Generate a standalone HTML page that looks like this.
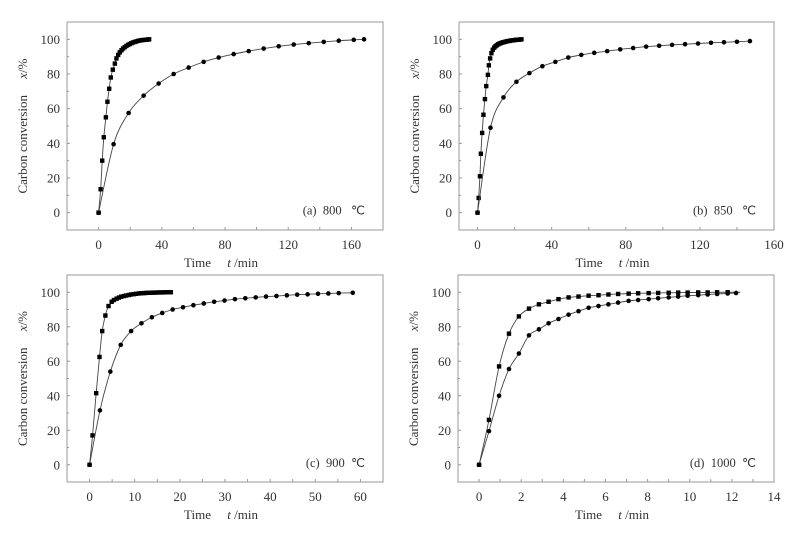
<!DOCTYPE html>
<html><head><meta charset="utf-8"><style>
body{margin:0;background:#fff;width:805px;height:531px;overflow:hidden}
svg text{font-family:"Liberation Serif",serif;fill:#333}
</style></head><body>
<svg id="chart" width="805" height="531" xmlns="http://www.w3.org/2000/svg"></svg>
<script>
// Panel (a) 800 C
const aFastT=[0,1.3,2.3,3.3,4.6,5.6,6.7,7.7,9,10.3,11.3,12.4,13.4,14.5,15.5,16.6,17.6,18.7,19.7,20.8,21.8,22.9,23.9,25,26,27.1,28.1,29.2,30.2,31.3,32];
const aFastX=[0,13.5,30,43.5,55,64,71.5,78,82.5,86,89,91,92.5,93.7,94.7,95.5,96.2,96.8,97.3,97.8,98.2,98.5,98.8,99.1,99.3,99.5,99.6,99.7,99.8,99.9,100];
const aSlowT=[0,9.5,19,28.5,38,47.5,57,66.5,76,85.5,95,104.5,114,123.5,133,142.5,152,161.5,168];
const aSlowX=[0,39.5,57.5,67.5,74.5,80,83.7,87,89.5,91.5,93.2,94.7,96,97,97.8,98.5,99.2,99.7,100];
// Panel (b) 850 C
const bFastT=[0,0.6,1.3,1.8,2.5,3.2,4,4.7,5.6,6.1,6.8,7.5,8.2,9,9.7,10.4,11.1,11.8,12.5,13.2,13.9,14.6,15.3,16,16.7,17.4,18.1,18.8,19.5,20.2,20.9,21.6,22.3,23,23.7];
const bFastX=[0,8.5,21,34,46,56.5,65.5,73,79.5,85,89,92,94,95.2,96,96.6,97.1,97.5,97.8,98.1,98.3,98.5,98.7,98.9,99,99.2,99.3,99.4,99.5,99.6,99.7,99.8,99.8,99.9,100];
const bSlowT=[0,7,14,21,28,35,42,49,56,63,70,77,84,91,98,105,112,119,126,133,140,147];
const bSlowX=[0,49,66.5,75.5,80.5,84.5,87,89.5,91,92.2,93.2,94.2,95,95.8,96.3,96.8,97.2,97.6,98,98.3,98.6,99];
// Panel (c) 900 C
const cFastT=[0,0.66,1.46,2.2,2.8,3.5,4.2,4.9,5.4,6,6.5,7,7.6,8.1,8.7,9.2,9.8,10.3,10.9,11.4,12,12.5,13,13.6,14.1,14.7,15.2,15.8,16.3,16.9,17.4,18];
const cFastX=[0,17,41.5,62.5,77.5,86.5,92,94.5,95.5,96.3,96.9,97.4,97.8,98.1,98.4,98.7,98.9,99.1,99.3,99.4,99.5,99.6,99.7,99.7,99.8,99.8,99.9,99.9,99.9,100,100,100];
const cSlowT=[0,2.3,4.6,6.9,9.2,11.5,13.8,16.1,18.4,20.7,23,25.3,27.6,29.9,32.2,34.5,36.8,39.1,41.4,43.7,46,48.3,50.6,52.9,55.2,58.3];
const cSlowX=[0,31.5,54,69.5,77.5,82,85.5,88,90,91.3,92.5,93.5,94.5,95.2,96,96.5,97,97.5,97.8,98.2,98.6,98.8,99.1,99.3,99.5,99.7];
// Panel (d) 1000 C
const dFastT=[0,0.47,0.95,1.42,1.89,2.37,2.84,3.3,3.77,4.25,4.72,5.2,5.67,6.14,6.6,7.1,7.55,8.05,8.5,9,9.45,9.9,10.4,10.85,11.3,11.8];
const dFastX=[0,26,57,76,86,90.5,93,94.5,96,97,97.5,98,98.3,98.7,99,99.2,99.4,99.5,99.6,99.7,99.8,99.8,99.9,99.9,100,100];
const dSlowT=[0,0.47,0.95,1.42,1.89,2.37,2.84,3.3,3.77,4.25,4.72,5.2,5.67,6.14,6.6,7.1,7.55,8.05,8.5,9,9.45,9.9,10.4,10.85,11.3,11.8,12.2];
const dSlowX=[0,19.5,40,55.5,64.5,75,78.5,82,84.5,87,89,91,92,93,94,95,95.5,96,96.5,97,97.5,98,98.3,98.7,99,99.3,99.6];
const yTicks=[0,20,40,60,80,100];
const aTicks=[0,40,80,120,160], bTicks=[0,40,80,120,160], cTicks=[0,10,20,30,40,50,60], dTicks=[0,2,4,6,8,10,12,14];

const NS="http://www.w3.org/2000/svg";
const svg=document.getElementById('chart');
function mk(tag,attrs,parent){const e=document.createElementNS(NS,tag);for(const k in attrs)e.setAttribute(k,attrs[k]);(parent||svg).appendChild(e);return e;}
function smooth(pts){let d=`M${pts[0][0]},${pts[0][1]}`;for(let i=0;i<pts.length-1;i++){const p0=pts[Math.max(0,i-1)],p1=pts[i],p2=pts[i+1],p3=pts[Math.min(pts.length-1,i+2)];
const c1=[p1[0]+(p2[0]-p0[0])/6,p1[1]+(p2[1]-p0[1])/6],c2=[p2[0]-(p3[0]-p1[0])/6,p2[1]-(p3[1]-p1[1])/6];d+=`C${c1[0]},${c1[1]} ${c2[0]},${c2[1]} ${p2[0]},${p2[1]}`;}return d;}

function panel(id,box,xmin,xmax,xticks,minorStep,label,fT,fX,sT,sX,fExt,sExt){
  const g=mk('g',{});
  
  
  const [L,T,W,H]=box;
  const sx=v=>L+(v-xmin)/(xmax-xmin)*W, sy=v=>T+H-(v+10)/120*H;
  const fr=mk('rect',{x:L,y:T,width:W,height:H,fill:'none',stroke:'#999','stroke-width':1},g);
  
  
  for(let v=Math.ceil(xmin/minorStep)*minorStep;v<=xmax+1e-9;v+=minorStep){
    mk('line',{x1:sx(v),x2:sx(v),y1:T+H,y2:T+H-3,stroke:'#999'},g);
  }
  xticks.forEach(v=>{const t=mk('text',{x:sx(v),y:T+H+19,'text-anchor':'middle','font-size':13},g);t.textContent=v;
    });
  yTicks.forEach(v=>{mk('line',{x1:L,x2:L+3,y1:sy(v),y2:sy(v),stroke:'#999'},g);
    const t=mk('text',{x:L-7,y:sy(v)+4.5,'text-anchor':'end','font-size':13},g);t.textContent=v;
    });
  [-10,10,30,50,70,90,110].forEach(v=>mk('line',{x1:L,x2:L+2,y1:sy(v),y2:sy(v),stroke:'#999'},g));
  const xt=mk('text',{x:L+W/2-4,y:T+H+37,'text-anchor':'middle','font-size':13},g);
  xt.innerHTML='Time\u00a0\u00a0\u00a0\u00a0\u00a0<tspan font-style="italic">t</tspan> /min';
  
  const yt=mk('text',{transform:`translate(${L-40},${T+H/2}) rotate(-90)`,'text-anchor':'middle','font-size':13},g);
  yt.innerHTML='Carbon conversion\u00a0\u00a0\u00a0\u00a0\u00a0<tspan font-style="italic">x</tspan>/%';
  
  const lb=mk('text',{x:L+W-18,y:sy(0)+2,'text-anchor':'end','font-size':12.5},g);lb.textContent=label;
  
  [[fT,fX,'square',fExt],[sT,sX,'circle',sExt]].forEach(([ts,xs,shape,ext])=>{
    const pts=ts.map((t,i)=>[sx(t),sy(xs[i])]);
    if(ext!=null)pts.push([sx(ext),sy(xs[xs.length-1])]);
    const p=mk('path',{d:smooth(pts),fill:'none',stroke:'#444','stroke-width':0.9},g);
    
    
    ts.forEach((t,i)=>{let m;
      if(shape==='square')m=mk('rect',{x:sx(t)-2.2,y:sy(xs[i])-2.2,width:4.4,height:4.4,fill:'#000'},g);
      else m=mk('circle',{cx:sx(t),cy:sy(xs[i]),r:2.3,fill:'#000'},g);
      
      });
  });
}
panel('a',[67,22,316,208],-20,180,aTicks,20,'(a)\u00a0\u00a0800\u00a0\u00a0\u00a0℃',aFastT,aFastX,aSlowT,aSlowX,null,null);
panel('b',[459,22,315,208],-10,160,bTicks,20,'(b)\u00a0\u00a0850\u00a0\u00a0\u00a0℃',bFastT,bFastX,bSlowT,bSlowX,null,null);
panel('c',[67,275,316,207],-5,65,cTicks,5,'(c)\u00a0\u00a0900\u00a0\u00a0℃',cFastT,cFastX,cSlowT,cSlowX,null,null);
panel('d',[458,275,316,207],-1,14,dTicks,1,'(d)\u00a0\u00a01000\u00a0\u00a0℃',dFastT,dFastX,dSlowT,dSlowX,12.4,null);
</script>
</body></html>
